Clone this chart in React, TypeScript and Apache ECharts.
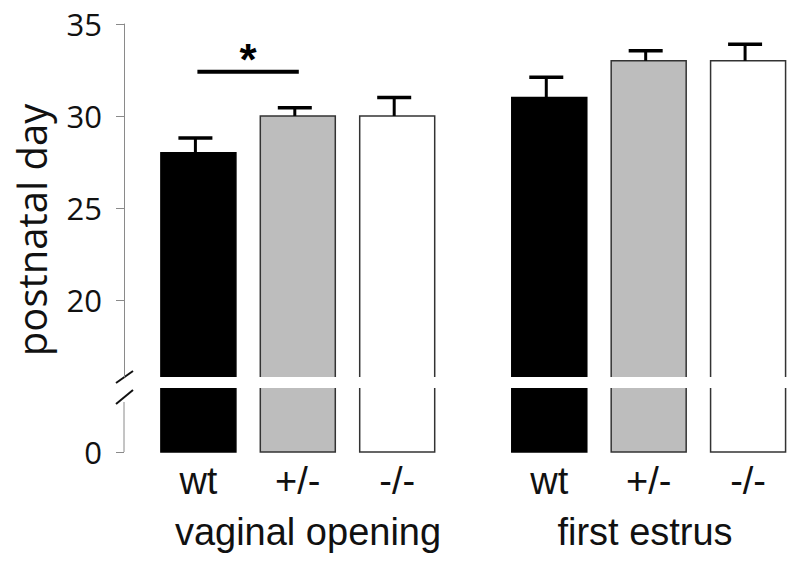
import React, { useEffect, useRef } from "react";
import * as echarts from "echarts";

// ---------- data ----------
const groupNames = ["vaginal opening", "first estrus"];
const genotypes = ["wt", "+/-", "-/-"];
const vaginalOpeningMean = [28.0, 30.0, 30.0];
const vaginalOpeningSem = [0.8, 0.45, 1.0];
const firstEstrusMean = [31.0, 33.0, 33.0];
const firstEstrusSem = [1.1, 0.55, 0.9];
const upperTicks = [20, 25, 30, 35];
const lowerTicks = [0];
const significancePair = [0, 1]; // wt vs +/- in vaginal opening
const significanceLevel = 32.4;
const significanceMark = "*";
const yAxisTitle = "postnatal day";

// ---------- layout / style ----------
const AXIS_X = 124;
const PLOT_RIGHT = 795;
const UPPER_TOP = 24;
const UPPER_BOTTOM = 377;
const LOWER_TOP = 388;
const LOWER_BOTTOM = 452;
const SLOT_PX = 99.4;
const FIRST_BAR_PX = 198.4;
const GROUP_STRIDE = 3.53;
const BAR_W = 75;
const Y_UPPER_MIN = 15.8;
const Y_UPPER_MAX = 35;
const Y_LOWER_MIN = 0;
const Y_LOWER_MAX = 3;
const X_MIN = (AXIS_X - FIRST_BAR_PX) / SLOT_PX;
const X_MAX = (PLOT_RIGHT - FIRST_BAR_PX) / SLOT_PX;
const fills = ["#000000", "#bdbdbd", "#ffffff"];
const edges = ["#000000", "#333333", "#333333"];
const AXIS_COLOR = "#8a8a8a";
const TEXT_COLOR = "#111111";

export default function App() {
  const ref = useRef<HTMLDivElement>(null);

  useEffect(() => {
    if (!ref.current) return;
    const chart = echarts.init(ref.current, undefined, { renderer: "svg" });

    const means = [vaginalOpeningMean, firstEstrusMean];
    const sems = [vaginalOpeningSem, firstEstrusSem];
    const rows: number[][] = [];
    const positions: number[] = [];
    const posLabels: string[] = [];
    groupNames.forEach((_, g) => {
      genotypes.forEach((name, i) => {
        const x = g * GROUP_STRIDE + i;
        rows.push([x, means[g][i], sems[g][i], i]);
        positions.push(x);
        posLabels.push(name);
      });
    });

    const labelFor = (v: number) => {
      let best = 0;
      let bd = Infinity;
      positions.forEach((p, k) => {
        const d = Math.abs(p - v);
        if (d < bd) {
          bd = d;
          best = k;
        }
      });
      return bd < 0.01 ? posLabels[best] : "";
    };

    const upperBar = (params: any, api: any) => {
      const x = api.value(0);
      const v = api.value(1);
      const k = api.value(3);
      const [cx, top] = api.coord([x, v]);
      const bottom = api.coord([x, Y_UPPER_MIN])[1];
      const l = cx - BAR_W / 2;
      const r = cx + BAR_W / 2;
      return {
        type: "group",
        children: [
          { type: "rect", shape: { x: l, y: top, width: BAR_W, height: bottom - top }, style: { fill: fills[k] } },
          {
            type: "polyline",
            shape: { points: [[l, bottom], [l, top], [r, top], [r, bottom]] },
            style: { fill: null, stroke: edges[k], lineWidth: 1.5 },
          },
        ],
      };
    };

    const lowerBar = (params: any, api: any) => {
      const x = api.value(0);
      const v = Math.min(api.value(1), Y_LOWER_MAX);
      const k = api.value(3);
      const [cx, top] = api.coord([x, v]);
      const bottom = api.coord([x, Y_LOWER_MIN])[1];
      const l = cx - BAR_W / 2;
      const r = cx + BAR_W / 2;
      return {
        type: "group",
        children: [
          { type: "rect", shape: { x: l, y: top, width: BAR_W, height: bottom - top }, style: { fill: fills[k] } },
          {
            type: "polyline",
            shape: { points: [[l, top], [l, bottom], [r, bottom], [r, top]] },
            style: { fill: null, stroke: edges[k], lineWidth: 1.5 },
          },
        ],
      };
    };

    const errorBar = (params: any, api: any) => {
      const x = api.value(0);
      const v = api.value(1);
      const e = api.value(2);
      const [cx0, y0] = api.coord([x, v]);
      const y1 = api.coord([x, v + e])[1];
      const cx = cx0 - 3;
      return {
        type: "group",
        children: [
          { type: "line", shape: { x1: cx, y1: y0, x2: cx, y2: y1 }, style: { stroke: "#000", lineWidth: 3 } },
          { type: "line", shape: { x1: cx - 17, y1: y1, x2: cx + 17, y2: y1 }, style: { stroke: "#000", lineWidth: 3.5 } },
        ],
      };
    };

    const sigRender = (params: any, api: any) => {
      const a = api.coord([api.value(0), api.value(2)]);
      const b = api.coord([api.value(1), api.value(2)]);
      return {
        type: "group",
        children: [
          { type: "line", shape: { x1: a[0] - 1, y1: a[1], x2: b[0] + 1, y2: b[1] }, style: { stroke: "#000", lineWidth: 4 } },
          {
            type: "text",
            style: {
              text: significanceMark,
              x: (a[0] + b[0]) / 2,
              y: a[1] - 12,
              align: "center",
              verticalAlign: "middle",
              font: "bold 44px 'Liberation Sans', Arial, sans-serif",
              fill: "#000",
            },
          },
        ],
      };
    };

    const groupCenters = [308, 645];

    chart.setOption({
      animation: false,
      backgroundColor: "#ffffff",
      grid: [
        { left: AXIS_X, top: UPPER_TOP, width: PLOT_RIGHT - AXIS_X, height: UPPER_BOTTOM - UPPER_TOP },
        { left: AXIS_X, top: LOWER_TOP, width: PLOT_RIGHT - AXIS_X, height: LOWER_BOTTOM - LOWER_TOP },
      ],
      xAxis: [
        { type: "value", gridIndex: 0, min: X_MIN, max: X_MAX, show: false },
        {
          type: "value",
          gridIndex: 1,
          min: X_MIN,
          max: X_MAX,
          axisLine: { show: false, onZero: false },
          axisTick: { show: false },
          splitLine: { show: false },
          axisLabel: {
            customValues: positions,
            formatter: (v: number) => labelFor(v),
            margin: 10,
            fontSize: 38,
            fontFamily: "'Liberation Sans', Arial, sans-serif",
            color: TEXT_COLOR,
          },
        },
      ],
      yAxis: [
        {
          type: "value",
          gridIndex: 0,
          min: Y_UPPER_MIN,
          max: Y_UPPER_MAX,
          splitLine: { show: false },
          axisLine: { show: true, onZero: false, lineStyle: { color: AXIS_COLOR, width: 1 } },
          axisTick: { show: true, length: 8, customValues: upperTicks, lineStyle: { color: AXIS_COLOR, width: 1 } },
          axisLabel: {
            customValues: upperTicks,
            margin: 22,
            fontSize: 31,
            fontFamily: "'Open Sans', sans-serif",
            color: TEXT_COLOR,
          },
        },
        {
          type: "value",
          gridIndex: 1,
          min: Y_LOWER_MIN,
          max: Y_LOWER_MAX,
          splitLine: { show: false },
          axisLine: { show: false, onZero: false },
          axisTick: { show: true, length: 8, customValues: lowerTicks, lineStyle: { color: AXIS_COLOR, width: 1 } },
          axisLabel: {
            customValues: lowerTicks,
            margin: 22,
            fontSize: 31,
            fontFamily: "'Open Sans', sans-serif",
            color: TEXT_COLOR,
          },
        },
      ],
      series: [
        {
          type: "custom",
          name: "upper bars",
          xAxisIndex: 0,
          yAxisIndex: 0,
          renderItem: upperBar,
          data: rows,
          encode: { x: 0, y: 1 },
          silent: true,
        },
        {
          type: "custom",
          name: "lower bars",
          xAxisIndex: 1,
          yAxisIndex: 1,
          renderItem: lowerBar,
          data: rows,
          encode: { x: 0, y: 1 },
          silent: true,
        },
        {
          type: "custom",
          name: "sem",
          xAxisIndex: 0,
          yAxisIndex: 0,
          renderItem: errorBar,
          data: rows,
          encode: { x: 0, y: 1 },
          silent: true,
          z: 3,
        },
        {
          type: "custom",
          name: "significance",
          xAxisIndex: 0,
          yAxisIndex: 0,
          renderItem: sigRender,
          data: [[positions[significancePair[0]], positions[significancePair[1]], significanceLevel]],
          encode: { x: [0, 1], y: 2 },
          silent: true,
        },
      ],
      graphic: [
        {
          type: "text",
          x: 31,
          y: 230,
          rotation: Math.PI / 2,
          style: {
            text: yAxisTitle,
            align: "center",
            verticalAlign: "middle",
            font: "40px 'Open Sans', sans-serif",
            fill: TEXT_COLOR,
          },
        },
        ...groupNames.map((name, g) => ({
          type: "text",
          x: groupCenters[g],
          y: 532,
          style: {
            text: name,
            align: "center",
            verticalAlign: "middle",
            font: "38px 'Liberation Sans', Arial, sans-serif",
            fill: TEXT_COLOR,
          },
        })),
        {
          type: "line",
          shape: { x1: AXIS_X, y1: 402, x2: AXIS_X, y2: LOWER_BOTTOM },
          style: { stroke: AXIS_COLOR, lineWidth: 1 },
        },
        {
          type: "line",
          shape: { x1: AXIS_X - 8, y1: 383, x2: AXIS_X + 9, y2: 371 },
          style: { stroke: "#111", lineWidth: 2 },
        },
        {
          type: "line",
          shape: { x1: AXIS_X - 8, y1: 404, x2: AXIS_X + 9, y2: 390 },
          style: { stroke: "#111", lineWidth: 2 },
        },
      ],
    });

    return () => chart.dispose();
  }, []);

  return (
    <div
      ref={ref}
      style={{ position: "absolute", left: 0, top: 0, width: 800, height: 569, background: "#fff" }}
    />
  );
}
